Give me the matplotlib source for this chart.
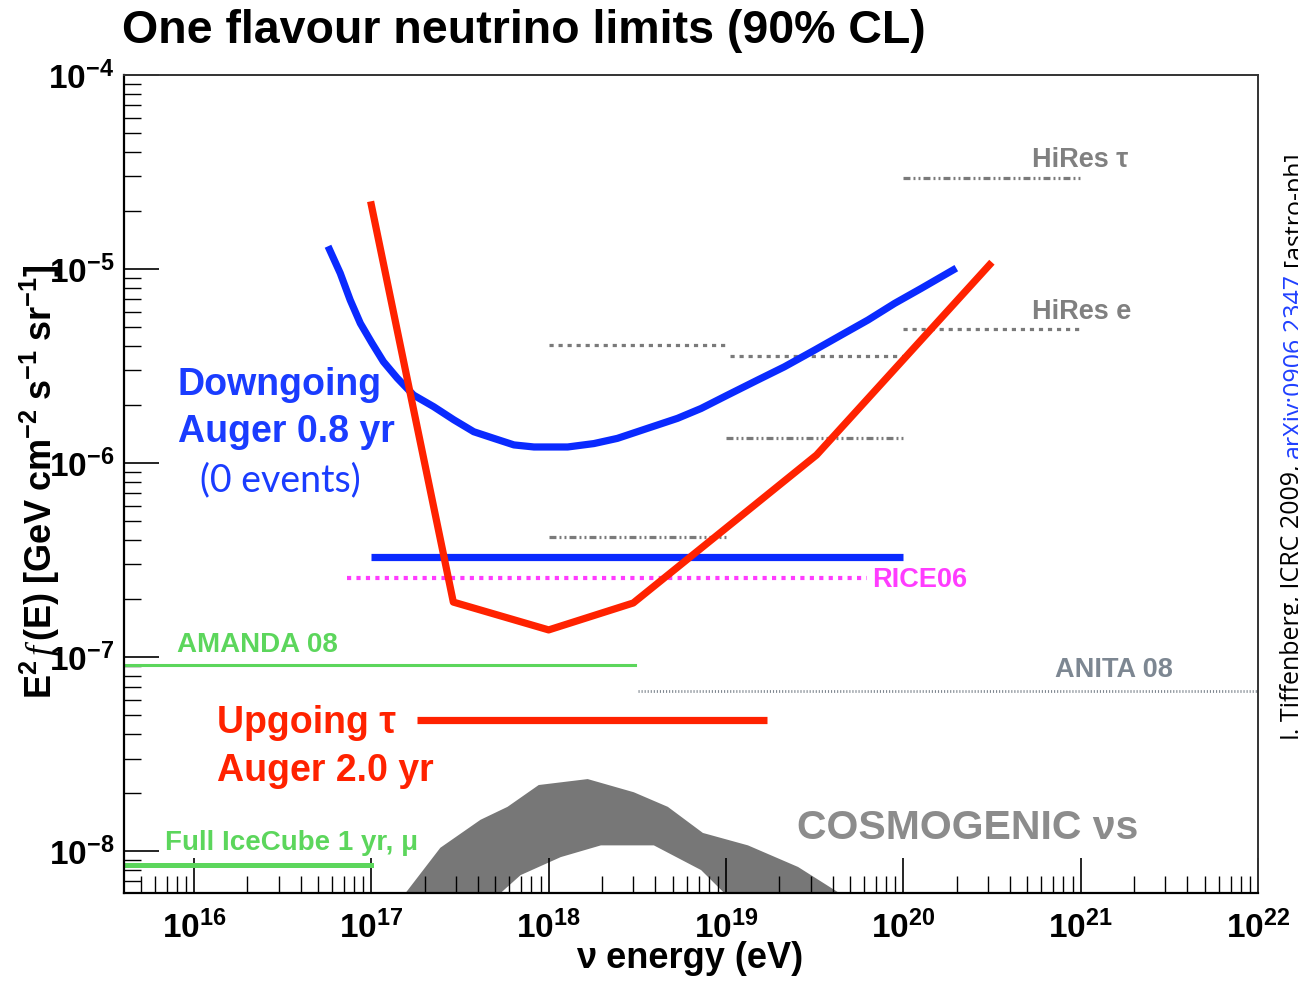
import numpy as np
import matplotlib
matplotlib.use('Agg')
import matplotlib.pyplot as plt
from matplotlib.ticker import FixedLocator, FixedFormatter, LogLocator, NullFormatter

plt.rcParams['font.family'] = ['Liberation Sans', 'DejaVu Sans']
plt.rcParams['mathtext.fontset'] = 'custom'
plt.rcParams['mathtext.rm'] = 'Liberation Sans'
plt.rcParams['mathtext.bf'] = 'Liberation Sans:bold'
plt.rcParams['mathtext.it'] = 'Liberation Serif:italic'
plt.rcParams['lines.scale_dashes'] = False

# ---------------- data ----------------
downgoing_E = [5.81e16, 6.68e16, 7.60e16, 8.67e16, 1.01e17, 1.17e17, 1.40e17, 1.73e17, 2.25e17,
               2.92e17, 3.78e17, 4.91e17, 6.37e17, 8.26e17, 1.28e18, 1.80e18, 2.44e18, 3.77e18,
               5.33e18, 7.23e18, 1.02e19, 1.51e19, 2.13e19, 3.16e19, 4.47e19, 6.32e19, 8.93e19,
               1.26e20, 1.91e20]
downgoing_F = [1.26e-5, 9.51e-6, 6.92e-6, 5.25e-6, 4.14e-6, 3.33e-6, 2.74e-6, 2.24e-6, 1.95e-6,
               1.67e-6, 1.45e-6, 1.34e-6, 1.24e-6, 1.21e-6, 1.21e-6, 1.26e-6, 1.34e-6, 1.53e-6,
               1.70e-6, 1.91e-6, 2.24e-6, 2.68e-6, 3.13e-6, 3.82e-6, 4.57e-6, 5.46e-6, 6.65e-6,
               7.94e-6, 9.89e-6]

upgoing_E = [1.0e17, 2.90e17, 1.0e18, 3.0e18, 3.24e19, 3.06e20]
upgoing_F = [2.14e-5, 1.92e-7, 1.38e-7, 1.90e-7, 1.10e-6, 1.05e-5]

downgoing_int_E = [1e17, 1e20]
downgoing_int_F = 3.27e-7
upgoing_int_E = [1.82e17, 1.70e19]
upgoing_int_F = 4.73e-8
rice06_E = [7.31e16, 6.27e19]
rice06_F = 2.55e-7
amanda08_E = [1e15, 3.06e18]
amanda08_F = 9.1e-8
icecube_E = [1e15, 1e17]
icecube_F = 8.47e-9
anita08_E = [3.18e18, 1e22]
anita08_F = 6.68e-8
hires_tau_E = [1e20, 1e21]
hires_tau_F = 2.94e-5
hires_e_E = [1e20, 1e21]
hires_e_F = 4.91e-6
gray_dot1_E = [1e18, 1e19]
gray_dot1_F = 4.06e-6
gray_dot2_E = [1.05e19, 1e20]
gray_dot2_F = 3.56e-6
gray_dd1_E = [1e19, 1e20]
gray_dd1_F = 1.35e-6
gray_dd2_E = [1e18, 1e19]
gray_dd2_F = 4.16e-7

cosmo_up_E = [1.10e17, 1.56e17, 2.45e17, 4.13e17, 5.86e17, 8.79e17, 1.66e18, 3.02e18, 4.70e18,
              7.41e18, 1.33e19, 2.55e19, 4.35e19, 8.91e19]
cosmo_up_F = [3.98e-9, 6.08e-9, 1.04e-8, 1.45e-8, 1.69e-8, 2.19e-8, 2.35e-8, 2.01e-8, 1.69e-8,
              1.24e-8, 1.07e-8, 8.28e-9, 6.08e-9, 3.98e-9]
cosmo_lo_E = [3.16e17, 5.36e17, 6.95e17, 1.17e18, 1.97e18, 3.92e18, 7.24e18, 9.77e18, 1.55e19]
cosmo_lo_F = [3.98e-9, 6.08e-9, 7.52e-9, 9.31e-9, 1.07e-8, 1.07e-8, 7.98e-9, 6.08e-9, 3.98e-9]

xtick_exps = [16, 17, 18, 19, 20, 21, 22]
ytick_exps = [-4, -5, -6, -7, -8]
xlim = (4.03e15, 1e22)
ylim = (6.08e-9, 1e-4)

# ---------------- figure ----------------
W, H = 1298, 982
fig = plt.figure(figsize=(W / 100, H / 100), dpi=100)
fig.patch.set_facecolor('white')
ax = fig.add_axes([124 / W, 1 - 893 / H, (1258 - 124) / W, (893 - 75) / H])
ax.set_xscale('log')
ax.set_yscale('log')
ax.set_xlim(*xlim)
ax.set_ylim(*ylim)

BLUE = '#0a2aff'
RED = '#ff2200'
GREEN = '#5cd65c'
GRAY = '#7a7a7a'
MAG = '#ff3cff'

# cosmogenic band
ax.fill(cosmo_up_E + cosmo_lo_E[::-1], cosmo_up_F + cosmo_lo_F[::-1], color='#777777', lw=0, zorder=1)

dashdot = (0, (5, 2.2, 1.4, 2.2, 1.4, 2.2))
sqdot = (0, (3, 3.5))

ax.plot(hires_tau_E, [hires_tau_F] * 2, color=GRAY, lw=2.3, ls=dashdot, zorder=2)
ax.plot(hires_e_E, [hires_e_F] * 2, color=GRAY, lw=2.3, ls=sqdot, zorder=2)
ax.plot(gray_dot1_E, [gray_dot1_F] * 2, color=GRAY, lw=2.3, ls=sqdot, zorder=2)
ax.plot(gray_dot2_E, [gray_dot2_F] * 2, color=GRAY, lw=2.3, ls=sqdot, zorder=2)
ax.plot(gray_dd1_E, [gray_dd1_F] * 2, color=GRAY, lw=2.3, ls=dashdot, zorder=2)
ax.plot(gray_dd2_E, [gray_dd2_F] * 2, color=GRAY, lw=2.3, ls=dashdot, zorder=2)
ax.plot(anita08_E, [anita08_F] * 2, color='#808890', lw=2.0, ls=(0, (0.8, 1.4)), zorder=2)
ax.plot(amanda08_E, [amanda08_F] * 2, color=GREEN, lw=2.2, zorder=2)
ax.plot(icecube_E, [icecube_F] * 2, color=GREEN, lw=3.6, zorder=2)
ax.plot(rice06_E, [rice06_F] * 2, color=MAG, lw=3.0, ls=(0, (3, 3.8)), zorder=3)
ax.plot(downgoing_int_E, [downgoing_int_F] * 2, color=BLUE, lw=5.2, zorder=4, solid_capstyle='butt')
ax.plot(upgoing_int_E, [upgoing_int_F] * 2, color=RED, lw=5.2, zorder=4, solid_capstyle='butt')
ax.plot(downgoing_E, downgoing_F, color=BLUE, lw=5.2, zorder=5, solid_joinstyle='round')
ax.plot(upgoing_E, upgoing_F, color=RED, lw=5.2, zorder=5, solid_joinstyle='round')

# ticks
ax.xaxis.set_major_locator(FixedLocator([10.0 ** e for e in xtick_exps]))
ax.xaxis.set_major_formatter(FixedFormatter([r'$\mathbf{10^{%d}}$' % e for e in xtick_exps]))
ax.yaxis.set_major_locator(FixedLocator([10.0 ** e for e in ytick_exps]))
ax.yaxis.set_major_formatter(FixedFormatter([r'$\mathbf{10^{%d}}$' % e for e in ytick_exps]))
ax.xaxis.set_minor_locator(LogLocator(base=10, subs=np.arange(2, 10), numticks=50))
ax.yaxis.set_minor_locator(LogLocator(base=10, subs=np.arange(2, 10), numticks=50))
ax.xaxis.set_minor_formatter(NullFormatter())
ax.yaxis.set_minor_formatter(NullFormatter())
ax.tick_params(which='both', direction='in', top=False, right=False, color='black')
ax.tick_params(which='major', length=25, width=1.2, labelsize=24)
ax.tick_params(which='minor', length=12.5, width=1.0)
ax.tick_params(axis='x', which='major', pad=13)
ax.tick_params(axis='y', which='major', pad=7)
for s in ['left', 'bottom']:
    ax.spines[s].set_linewidth(1.6)
    ax.spines[s].set_color('black')
for s in ['top', 'right']:
    ax.spines[s].set_linewidth(1.4)
    ax.spines[s].set_color('#333333')


def ftext(x, y, s, **kw):
    return fig.text(x / W, 1 - y / H, s, **kw)


ftext(122, 31, 'One flavour neutrino limits (90% CL)', fontsize=33.5, fontweight='bold',
      ha='left', va='center')
ftext(690, 958, '\u03bd energy (eV)', fontsize=26, fontweight='bold', ha='center', va='center')
ftext(40, 482, r'$\mathbf{E^{2}}\,\mathit{f}\,\mathbf{(E)\ [GeV\ cm^{-2}\ s^{-1}\ sr^{-1}]}$',
      fontsize=26, rotation=90, ha='center', va='center')

lab = dict(fontsize=19.5, fontweight='bold', ha='left', va='center')
ftext(1032, 160, 'HiRes \u03c4', color='#808080', **lab)
ftext(1032, 312, 'HiRes e', color='#808080', **lab)
ftext(1055, 670, 'ANITA 08', color='#7d8792', **lab)
ftext(872, 580, 'RICE06', color=MAG, **lab)
ftext(177, 645, 'AMANDA 08', color=GREEN, fontsize=20, fontweight='bold', ha='left', va='center')
ftext(165, 843, 'Full IceCube 1 yr, \u03bc', color=GREEN, fontsize=20, fontweight='bold',
      ha='left', va='center')

big = dict(fontsize=27, fontweight='bold', ha='left', va='center')
ftext(178, 385, 'Downgoing', color='#1a3cff', **big)
ftext(178, 432, 'Auger 0.8 yr', color='#1a3cff', **big)
ftext(200, 480, '(0 events)', color='#1a3cff', fontsize=27, family=['Lato', 'DejaVu Sans'],
      ha='left', va='center')
ftext(217, 723, 'Upgoing \u03c4', color=RED, **big)
ftext(217, 771, 'Auger 2.0 yr', color=RED, **big)
ftext(797, 828, 'COSMOGENIC \u03bds', color='#8c8c8c', fontsize=29.5, fontweight='bold',
      ha='left', va='center')

# citation on the right edge (reads bottom to top, partly cut by the figure edge)
cite_parts = [('J. Tiffenberg, ICRC 2009,', 'black'), ('arXiv:0906.2347', '#2040ff'), ('[astro-ph]', 'black')]
renderer = fig.canvas.get_renderer()
ycur = 742
for s, c in cite_parts:
    t = ftext(1301, ycur, s, color=c, fontsize=18, family=['Open Sans', 'DejaVu Sans'],
              rotation=90, rotation_mode='anchor', ha='left', va='baseline')
    bb = t.get_window_extent(renderer)
    ycur -= bb.height + 7

fig.savefig('out.png', dpi=100)
